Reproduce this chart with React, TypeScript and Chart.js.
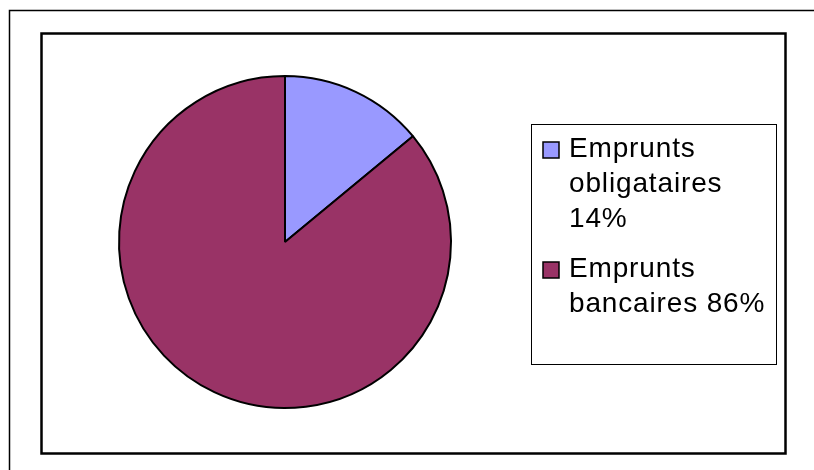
import React, { useEffect, useRef } from 'react';
import { Chart, registerables } from 'chart.js';

Chart.register(...registerables);

const categories = ['Emprunts obligataires', 'Emprunts bancaires'];
const values = [14, 86];
const colors = ['#9999FF', '#993366'];

const FONT = '28px "Liberation Sans", Arial, sans-serif';

function wrapText(ctx: CanvasRenderingContext2D, text: string, maxWidth: number): string[] {
  const words = text.split(' ');
  const lines: string[] = [];
  let cur = '';
  for (const w of words) {
    const test = cur ? cur + ' ' + w : w;
    if (cur && ctx.measureText(test).width > maxWidth) {
      lines.push(cur);
      cur = w;
    } else {
      cur = test;
    }
  }
  if (cur) lines.push(cur);
  return lines;
}

const framePlugin = {
  id: 'frame',
  beforeDraw(chart: any) {
    const ctx: CanvasRenderingContext2D = chart.ctx;
    ctx.save();
    ctx.fillStyle = '#ffffff';
    ctx.fillRect(0, 0, chart.width, chart.height);
    ctx.strokeStyle = '#000000';
    ctx.lineWidth = 1.5;
    ctx.beginPath();
    ctx.moveTo(9.5, chart.height);
    ctx.lineTo(9.5, 10.5);
    ctx.lineTo(chart.width, 10.5);
    ctx.stroke();
    ctx.lineWidth = 2.5;
    ctx.strokeRect(41.5, 33.5, 744, 420);
    ctx.restore();
  },
  afterDraw(chart: any) {
    const ctx: any = chart.ctx;
    ctx.save();
    ctx.strokeStyle = '#000000';
    ctx.lineWidth = 1;
    ctx.strokeRect(531.5, 124.5, 245, 240);
    ctx.font = FONT;
    ctx.letterSpacing = '0.85px';
    ctx.textBaseline = 'alphabetic';
    ctx.textAlign = 'left';
    const total = values.reduce((a, b) => a + b, 0);
    let baseline = 157;
    const lineH = 35;
    categories.forEach((cat, i) => {
      const pct = Math.round((values[i] / total) * 100);
      const lines = wrapText(ctx, `${cat} ${pct}%`, 204);
      ctx.fillStyle = colors[i];
      ctx.fillRect(543, baseline - 15, 16, 16);
      ctx.lineWidth = 1.5;
      ctx.strokeStyle = '#000000';
      ctx.strokeRect(543, baseline - 15, 16, 16);
      ctx.fillStyle = '#000000';
      lines.forEach((ln, j) => {
        ctx.fillText(ln, 569, baseline + j * lineH);
      });
      baseline += lines.length * lineH + 15;
    });
    ctx.restore();
  },
};

export default function App() {
  const ref = useRef<HTMLCanvasElement | null>(null);
  useEffect(() => {
    if (!ref.current) return;
    const chart = new Chart(ref.current, {
      type: 'pie',
      data: {
        labels: categories,
        datasets: [
          {
            data: values,
            backgroundColor: colors,
            borderColor: '#000000',
            borderWidth: 2,
            radius: 166,
          } as any,
        ],
      },
      options: {
        animation: false,
        responsive: false,
        maintainAspectRatio: false,
        layout: { padding: { left: 115, right: 359, top: 72, bottom: 58 } },
        plugins: {
          legend: { display: false },
          tooltip: { enabled: false },
        },
      },
      plugins: [framePlugin],
    });
    return () => chart.destroy();
  }, []);
  return (
    <div style={{ position: 'fixed', left: 0, top: 0, width: 814, height: 470, background: '#fff' }}>
      <canvas ref={ref} width={814} height={470} style={{ display: 'block', width: 814, height: 470 }} />
    </div>
  );
}
